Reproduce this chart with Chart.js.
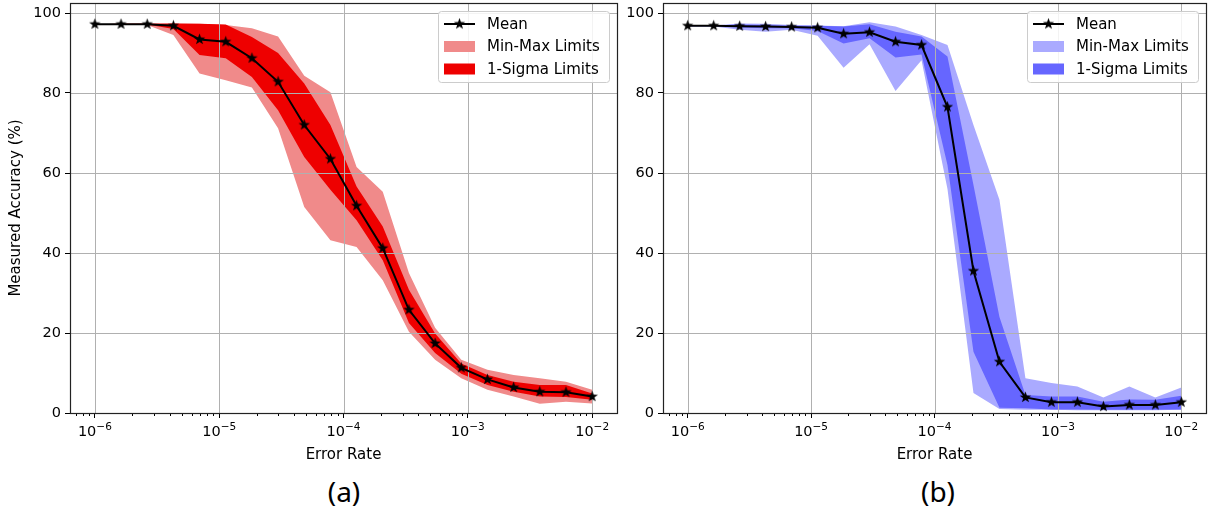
<!DOCTYPE html>
<html>
<head>
<meta charset="utf-8">
<script src="https://cdn.jsdelivr.net/npm/chart.js@4.4.1/dist/chart.umd.min.js"></script>
<style>
  body { margin: 0; background: #fff; width: 1214px; height: 512px; position: relative; overflow: hidden; }
  canvas { position: absolute; top: -5px; }
  #chartA { left: 0; }
  #chartB { left: 622px; }
  .tag { position: absolute; top: 472px; width: 100px; text-align: center; font: 28px "Noto Sans", sans-serif; line-height: 38px; color: #000; }
</style>
</head>
<body>
<canvas id="chartA" width="625" height="475"></canvas>
<canvas id="chartB" width="592" height="475"></canvas>
<div class="tag" style="left:294px">(a)</div>
<div class="tag" style="left:888px">(b)</div>
<script>
// error rates (20 log-spaced points, 1e-6 .. 1e-2)
const errorRate = [1e-6, 1.624e-6, 2.637e-6, 4.281e-6, 6.952e-6, 1.129e-5, 1.833e-5, 2.976e-5, 4.833e-5, 7.848e-5,
  1.274e-4, 2.069e-4, 3.360e-4, 5.456e-4, 8.859e-4, 1.438e-3, 2.336e-3, 3.793e-3, 6.158e-3, 1e-2];

// (a)
const meanA  = [97.2, 97.2, 97.2, 96.8, 93.4, 92.8, 88.7, 82.8, 72.0, 63.5, 51.8, 41.2, 25.8, 17.4, 11.3, 8.4, 6.4, 5.3, 5.2, 4.1];
const maxA   = [97.2, 97.3, 97.4, 97.5, 97.3, 97.0, 96.2, 94.1, 84.3, 80.2, 61.5, 55.3, 35.0, 21.3, 13.3, 10.8, 9.5, 8.7, 7.8, 5.8];
const minA   = [97.2, 97.1, 97.0, 94.5, 84.9, 83.2, 81.4, 71.2, 51.5, 43.2, 41.5, 33.2, 20.3, 13.3, 8.7, 5.8, 4.1, 2.3, 2.8, 2.4];
const sigHiA = [97.2, 97.3, 97.3, 97.3, 97.3, 97.1, 94.0, 90.0, 82.4, 72.0, 56.6, 46.6, 30.8, 19.9, 12.4, 9.5, 7.8, 7.0, 7.0, 4.9];
const sigLoA = [97.2, 97.1, 97.1, 96.0, 89.5, 88.7, 84.0, 75.7, 64.0, 55.8, 48.2, 38.2, 22.5, 15.0, 9.8, 7.0, 5.3, 4.1, 4.0, 3.3];

// (b)
const meanB  = [96.8, 96.8, 96.7, 96.6, 96.5, 96.3, 94.8, 95.2, 92.8, 92.0, 76.5, 35.5, 12.8, 3.9, 2.7, 2.7, 1.6, 2.0, 2.0, 2.7];
const maxB   = [96.9, 96.9, 97.4, 97.3, 97.0, 96.9, 96.7, 97.7, 96.6, 94.5, 92.0, 72.0, 53.3, 8.7, 7.5, 6.6, 3.9, 6.6, 3.9, 6.4];
const minB   = [96.7, 96.6, 95.8, 95.3, 95.8, 94.3, 86.3, 92.2, 80.5, 88.2, 56.0, 5.0, 1.0, 0.8, 0.8, 0.7, 0.7, 0.7, 0.7, 0.8];
const sigHiB = [96.9, 96.9, 97.1, 97.0, 96.8, 96.8, 96.6, 97.2, 95.3, 94.1, 89.1, 57.0, 24.0, 4.5, 4.1, 4.1, 2.8, 3.4, 3.3, 4.3];
const sigLoB = [96.7, 96.7, 96.4, 96.2, 96.2, 95.5, 92.4, 93.7, 88.9, 89.6, 62.0, 15.3, 1.3, 1.2, 0.9, 0.9, 0.8, 0.8, 0.8, 0.9];

const xTickValues = [1e-6, 1e-5, 1e-4, 1e-3, 1e-2];
const xTickBase = "10";
const xTickExp = ["\u22126", "\u22125", "\u22124", "\u22123", "\u22122"];
const yTickValues = [0, 20, 40, 60, 80, 100];

Chart.defaults.font.family = "'DejaVu Sans', sans-serif";
Chart.defaults.font.size = 15;
Chart.defaults.color = "#000";

// filled five point star used as the marker
const star = (() => {
  const c = document.createElement("canvas");
  c.width = c.height = 13;
  const g = c.getContext("2d");
  g.beginPath();
  for (let i = 0; i < 10; i++) {
    const r = i % 2 ? 2.4 : 6;
    const a = -Math.PI / 2 + i * Math.PI / 5;
    g.lineTo(6.5 + r * Math.cos(a), 6.5 + r * Math.sin(a));
  }
  g.closePath();
  g.fillStyle = "#000";
  g.fill();
  return c;
})();

const pts = (arr) => errorRate.map((x, i) => ({ x: x, y: arr[i] }));

const makeDatasets = (mean, max, min, hi, lo, light, dark) => [
  { label: "Mean", data: pts(mean), borderColor: "#000", borderWidth: 2, pointStyle: star, pointRadius: 6, fill: false },
  { label: "1-Sigma Limits", data: pts(hi), backgroundColor: dark, borderColor: "transparent", borderWidth: 0, pointRadius: 0, fill: "+1" },
  { label: "", data: pts(lo), borderColor: "transparent", borderWidth: 0, pointRadius: 0, fill: false },
  { label: "Min-Max Limits", data: pts(max), backgroundColor: light, borderColor: "transparent", borderWidth: 0, pointRadius: 0, fill: "+1" },
  { label: "", data: pts(min), borderColor: "transparent", borderWidth: 0, pointRadius: 0, fill: false },
];

// grid goes over the bands but under the mean line, like matplotlib
const gridPlugin = {
  id: "gridUnder",
  beforeDatasetDraw(chart, args) {
    if (args.index !== 0) return;
    const { ctx, chartArea: a, scales: { x, y } } = chart;
    ctx.save();
    ctx.strokeStyle = "#b0b0b0";
    ctx.lineWidth = 1;
    ctx.beginPath();
    x.ticks.forEach((t) => {
      const px = Math.round(x.getPixelForValue(t.value)) + 0.5;
      ctx.moveTo(px, a.top);
      ctx.lineTo(px, a.bottom);
    });
    y.ticks.forEach((t) => {
      const py = Math.round(y.getPixelForValue(t.value)) + 0.5;
      ctx.moveTo(a.left, py);
      ctx.lineTo(a.right, py);
    });
    ctx.stroke();
    ctx.restore();
  },
};

// minor ticks, 10^n tick labels, spines and the boxed legend
const framePlugin = {
  id: "frame",
  afterDraw(chart) {
    const { ctx, chartArea: a, scales: { x } } = chart;
    ctx.save();
    ctx.strokeStyle = "#000";
    ctx.lineWidth = 1;
    ctx.beginPath();
    for (let e = -7; e <= -2; e++) {
      for (let m = 2; m <= 9; m++) {
        const v = m * Math.pow(10, e);
        if (v < x.min || v > x.max) continue;
        const px = Math.round(x.getPixelForValue(v)) + 0.5;
        ctx.moveTo(px, a.bottom);
        ctx.lineTo(px, a.bottom + 3);
      }
    }
    ctx.stroke();

    // tick labels as 10 with a raised exponent
    ctx.fillStyle = "#000";
    ctx.textBaseline = "alphabetic";
    ctx.textAlign = "left";
    xTickValues.forEach((v, i) => {
      const px = x.getPixelForValue(v);
      ctx.font = "14.5px 'DejaVu Sans'";
      const wb = ctx.measureText(xTickBase).width;
      ctx.font = "10.5px 'DejaVu Sans'";
      const we = ctx.measureText(xTickExp[i]).width;
      const left = px - (wb + we) / 2;
      ctx.font = "14.5px 'DejaVu Sans'";
      ctx.fillText(xTickBase, left, a.bottom + 23);
      ctx.font = "10.5px 'DejaVu Sans'";
      ctx.fillText(xTickExp[i], left + wb, a.bottom + 17);
    });

    ctx.strokeStyle = "#222";
    ctx.lineWidth = 1.2;
    ctx.strokeRect(a.left + 0.5, a.top + 0.5, a.right - a.left, a.bottom - a.top);

    // legend
    const w = 171, h = 71;
    const L = a.right - 8 - w, T = a.top + 8;
    ctx.beginPath();
    ctx.roundRect(L + 0.5, T + 0.5, w, h, 3);
    ctx.fillStyle = "rgba(255,255,255,0.85)";
    ctx.fill();
    ctx.strokeStyle = "#cccccc";
    ctx.lineWidth = 1;
    ctx.stroke();
    ctx.font = "15px 'DejaVu Sans'";
    ctx.textBaseline = "middle";
    [0, 3, 1].forEach((di, k) => {
      const ds = chart.data.datasets[di];
      const cy = T + 13 + k * 22.5;
      if (di === 0) {
        ctx.strokeStyle = "#000";
        ctx.lineWidth = 2;
        ctx.beginPath();
        ctx.moveTo(L + 6, cy);
        ctx.lineTo(L + 37, cy);
        ctx.stroke();
        ctx.drawImage(star, L + 21.5 - 6.5, cy - 6.5);
      } else {
        ctx.fillStyle = ds.backgroundColor;
        ctx.fillRect(L + 6, cy - 5.5, 31, 11);
      }
      ctx.fillStyle = "#000";
      ctx.fillText(ds.label, L + 49, cy + 1);
    });
    ctx.restore();
  },
};

const makeChart = (id, datasets, yWidth, showYTitle, rightPad) => {
  new Chart(document.getElementById(id), {
    type: "line",
    data: { datasets: datasets },
    options: {
      responsive: false,
      animation: false,
      events: [],
      layout: { padding: { top: 0, right: rightPad, left: 0, bottom: 0 } },
      elements: { line: { tension: 0 } },
      plugins: { legend: { display: false }, tooltip: { enabled: false } },
      scales: {
        x: {
          type: "logarithmic",
          min: Math.pow(10, -6.2),
          max: Math.pow(10, -1.8),
          bounds: "data",
          afterBuildTicks: (s) => { s.ticks = xTickValues.map((v) => ({ value: v })); },
          afterFit: (s) => { s.height = 57; s.paddingLeft = 0; s.paddingRight = 0; },
          ticks: { display: false },
          grid: { drawOnChartArea: false, tickLength: 5, tickColor: "#000", tickWidth: 1 },
          border: { display: false },
          title: { display: true, text: "Error Rate", padding: { top: 0, bottom: 6 } },
        },
        y: {
          min: 0,
          max: 102.5,
          afterBuildTicks: (s) => { s.ticks = yTickValues.map((v) => ({ value: v })); },
          afterFit: (s) => { s.width = yWidth; s.paddingTop = 0; s.paddingBottom = 0; },
          ticks: { padding: 4, font: { size: 14.5 } },
          grid: { drawOnChartArea: false, tickLength: 5, tickColor: "#000", tickWidth: 1 },
          border: { display: false },
          title: { display: showYTitle, text: "Measured Accuracy (%)", padding: { top: 7, bottom: 0 } },
        },
      },
    },
    plugins: [gridPlugin, framePlugin],
  });
};

makeChart("chartA", makeDatasets(meanA, maxA, minA, sigHiA, sigLoA, "rgb(240,138,138)", "rgb(238,0,0)"), 70, true, 5);
makeChart("chartB", makeDatasets(meanB, maxB, minB, sigHiB, sigLoB, "rgb(170,170,255)", "rgb(102,102,255)"), 41, false, 1);
</script>
</body>
</html>
